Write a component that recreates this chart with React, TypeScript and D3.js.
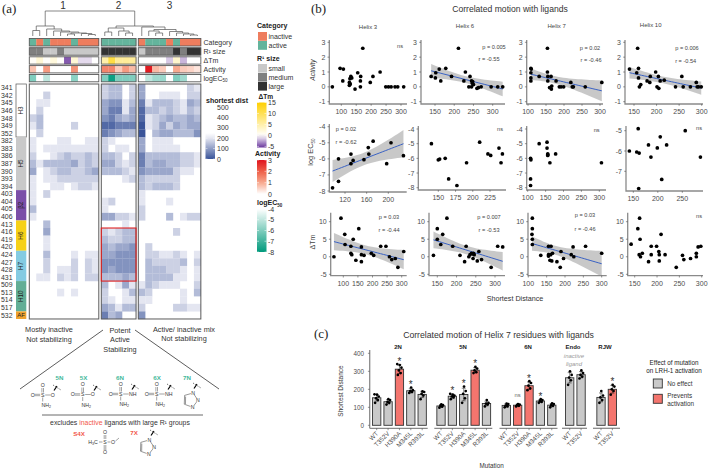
import React from "react";
import * as d3 from "d3";

type Tree = number | [number, Tree, Tree];

// ---------- (a) heat map ----------
const residues = [341,342,345,346,348,349,352,382,383,386,387,390,393,394,403,404,405,406,413,416,419,420,424,427,428,431,509,513,514,517,532];
const clusterOne = [
[0,0,0,0,0,0,0,0,0,0],[0,0,2,0,0,0,0,0,0,0],[0,1,1,0,0,0,0,0,0,0],[0,2,0,0,0,0,0,0,0,0],[2,3,0,0,0,0,0,0,0,0],[1,3,0,0,0,0,2,0,0,0],[0,2,0,0,0,0,0,0,0,0],
[1,0,0,0,1,1,0,0,1,1],[1,0,1,1,1,1,1,1,1,1],[2,0,0,1,2,3,2,2,3,2],[3,1,3,3,3,3,4,2,3,2],[4,0,1,2,3,3,2,2,3,4],[1,0,1,1,2,2,2,2,2,2],[1,0,0,1,1,0,1,2,2,1],
[1,0,2,0,0,0,0,0,0,0],[1,0,0,0,0,0,0,0,0,0],[3,0,0,0,0,0,0,0,0,0],[1,0,0,0,0,0,0,0,0,0],
[0,0,3,0,0,0,0,0,0,0],[0,0,4,0,0,0,0,0,0,0],[0,0,1,0,0,0,0,0,0,0],[0,0,1,0,0,0,0,0,0,0],
[0,0,3,0,0,0,1,0,1,1],[0,0,2,0,0,0,2,0,2,1],[0,0,2,0,1,1,2,0,2,1],[0,1,1,0,2,1,2,0,2,2],
[0,0,0,0,0,0,0,0,0,0],[0,0,0,0,1,0,1,0,0,0],[0,0,0,0,0,0,0,0,0,0],[0,0,0,0,0,0,0,0,0,0],[0,0,0,0,0,0,0,0,0,0]];
const clusterTwo = [
[2,3,3,0,2],[2,3,3,0,2],[4,5,5,1,3],[4,6,6,1,4],[5,6,4,3,4],[7,7,6,6,6],[6,5,4,3,3],
[2,1,0,0,0],[2,0,1,1,0],[3,3,2,0,2],[4,4,2,1,2],[3,3,3,2,1],[0,0,0,1,2],[0,0,0,0,0],
[0,0,0,0,0],[1,2,0,0,0],[1,0,0,0,0],[4,4,2,2,1],
[0,0,0,1,0],[2,1,2,3,3],[3,2,2,3,3],[4,3,4,4,5],[4,4,5,5,5],[5,5,5,5,5],[5,4,5,5,5],[3,3,3,4,3],
[3,0,1,4,1],[2,0,0,1,3],[2,1,0,1,1],[4,3,1,3,3],[6,3,4,0,0]];
const clusterThree = [
[4,0,0,0,0,0,0,2,1],[4,0,0,1,1,1,0,2,2],[6,1,3,3,3,2,1,4,3],[7,3,3,2,3,2,1,3,2],[7,1,2,3,4,3,3,4,3],[8,1,2,4,2,4,3,4,4],[8,0,3,4,4,3,3,3,5],
[4,0,1,1,1,0,0,0,0],[4,0,1,1,1,1,0,0,0],[6,3,3,3,3,3,2,2,1],[6,3,4,4,3,3,2,2,1],[5,4,4,4,4,2,1,1,0],[3,2,2,2,2,2,0,0,0],[3,2,3,3,3,2,0,0,0],
[1,0,0,0,0,0,0,0,0],[1,0,0,0,1,0,0,0,0],[2,0,0,0,0,0,0,0,0],[2,0,0,0,3,0,1,2,2],
[0,0,0,0,0,0,0,0,0],[0,0,0,0,0,2,0,0,0],[0,0,0,0,0,0,0,0,0],[0,2,0,0,0,0,0,0,0],
[0,2,2,1,1,2,1,0,1],[0,3,2,2,2,2,3,0,2],[0,3,3,3,2,2,1,0,1],[0,3,3,3,3,1,1,0,1],
[1,3,2,1,1,1,0,0,2],[3,2,0,0,0,0,1,0,3],[1,1,0,0,0,0,1,0,0],[2,0,0,0,0,2,2,1,1],[5,0,0,0,0,0,0,0,0]];

const categoryRow = ["a","i","a","i","i","i","a","i","i","i", "a","a","a","a","a", "i","a","a","a","i","a","i","i","i"];
const sizeRow = ["m","m","s","s","m","s","s","s","s","s", "l","l","l","l","l", "s","m","m","m","m","l","m","l","l"];
const tmRow = [0.5,2.5,0.3,2,0.3,-4.5,2.5,-1,-1,0, 5,11,6,6,6, 0,0,0,0,-1.5,3,-2,0,0];
const activityRow = [0.7,0,1.2,0,0,0,1.3,0,0,0, 1.5,1.5,0.6,1.2,0.8, 0,2.9,0.8,0.6,0,1,0.6,0.5,0.3];
const ecRow = [-6,-4,-5,-4,-4,-4,-5.8,-4,-4,-4, -6,-7.8,-6,-6,-6, -4,-5,-5.5,-5.6,-4,-6,-5.5,-4,-4];
const tree: Tree = [25,
  [10,[5.5,0,1],[7,2,[5,3,[4,4,[3,[2,5,6],[2.5,7,[1.5,8,9]]]]]]],
  [10,[8,[4,10,11],[5,12,[3,13,14]]],[9,15,[6.5,[5,16,[3,17,18]],[4.5,19,[3,20,[2,21,[1,22,23]]]]]]]];

const helixBands = [
  { name: "H3", rows: 7, color: "#ffffff" }, { name: "H5", rows: 7, color: "#c9c9c9" },
  { name: "β2", rows: 4, color: "#7b4fa8" }, { name: "H6", rows: 4, color: "#f6d118" },
  { name: "H7", rows: 4, color: "#84cbe2" }, { name: "H10", rows: 4, color: "#62ae96" },
  { name: "AF", rows: 1, color: "#f0a22e" },
];

// ---------- (b) scatter data ----------
const act3 = [[70,0],[96,1.25],[107,1.2],[105,0.4],[132,0.7],[129,0.55],[135,0.6],[127,0.3],[130,0.2],[127,0.1],[146,-0.15],[155,0.95],[165,0.7],[164,0.4],[164,0],[172,2.6],[197,0.3],[206,0.7],[230,1],[249,0],[258,0],[267,0],[280,0],[289,0],[309,0]];
const act6 = [[140,0.7],[152,0.95],[151,0.6],[161,1.2],[165,0.4],[178,1.25],[193,0.7],[211,2.6],[225,0.4],[229,1],[238,0],[241,0.7],[245,0],[245,0.4],[247,0.25],[248,0.35],[250,0.15],[259,-0.1],[263,-0.05],[270,0],[296,0],[313,0],[326,0]];
const act7 = [[108,1.25],[109,1.2],[108,0.95],[108,0.6],[108,0.4],[131,0.7],[154,2.6],[154,1],[155,0.7],[155,0.4],[164,0.7],[160,-0.05],[165,-0.15],[166,0.05],[178,0.4],[187,0],[192,0],[199,0],[219,0.3],[223,0],[226,0],[259,0],[305,0.3]];
const act10 = [[140,1.2],[156,0.95],[158,2.6],[160,1.25],[160,0.6],[162,0],[165,0.15],[179,0.4],[185,0.3],[186,0.7],[198,1],[201,0],[204,0.7],[205,-0.1],[208,0.4],[217,0.45],[242,0],[256,0.7],[259,0],[275,0],[288,0.3],[290,0],[293,0],[299,0]];
const ec3 = [[97,-7.8],[108,-7.4],[108,-6],[131,-6.3],[131,-5.7],[135,-6.1],[155,-6.05],[163,-5.3],[164,-5.7],[172,-4.9],[197,-6.3],[205,-5],[228,-5.8]];
const ec6 = [[140,-5],[150,-6.1],[152,-6.05],[160,-6],[165,-7.4],[177,-7.85],[191,-6.3],[210,-4.9],[222,-5.7],[226,-5.8],[238,-5.3],[241,-6.3],[243,-5.7]];
const ec7 = [[108,-7.4],[108,-7.85],[108,-6],[109,-6.1],[132,-5],[154,-4.9],[154,-5.3],[156,-5.7],[156,-5.8],[156,-5.75],[162,-6.3],[178,-5.7],[306,-6.3]];
const ec10 = [[160,-4.9],[142,-6],[157,-6.05],[162,-6.1],[181,-5.7],[186,-6.3],[199,-5.85],[205,-5.3],[208,-7.4],[161,-7.85],[218,-5.7],[256,-5],[287,-6.3]];
const tm3 = [[68,0],[92,11],[105,6.4],[106,3.5],[126,3],[126,1],[129,0.6],[134,5],[143,-1],[153,8],[162,2.8],[162,0.6],[162,-1.4],[171,0.4],[196,1],[204,0.4],[228,3],[246,3],[258,0],[266,-0.8],[278,-0.5],[287,-3],[307,1.5]];
const tm6 = [[140,0.4],[150,5],[150,8],[159,3.5],[164,6.4],[175,11],[190,3],[209,0.4],[221,-1.4],[225,3],[232,0],[235,0.6],[239,1],[242,0.8],[244,1],[243,-0.5],[246,0.6],[254,-1.2],[258,1.5],[265,-0.8],[290,-3],[307,3],[320,2.8]];
const tm7 = [[111,11],[111,8],[110,6.4],[111,5],[111,3.5],[134,0.4],[155,3],[162,3],[155,0.6],[159,-1],[164,-1.2],[166,1],[155,0.2],[178,-1.4],[187,-3],[189,1.5],[196,-0.5],[217,0.6],[222,2.8],[224,0],[256,3],[300,1],[161,0.6]];
const tm10 = [[142,3.6],[157,8],[161,11],[162,5],[160,0.6],[163,0],[167,1],[181,-1.4],[187,3],[187,0.6],[199,3],[204,1.5],[205,0.6],[205,-1.2],[209,6.4],[218,0.6],[243,-3],[257,0.4],[260,-0.8],[275,-0.5],[288,1],[288,0],[292,2.8],[298,3]];

const row1Ticks = [3,2,1,0,-1];
const row2Ticks = [-4,-5,-6,-7,-8];
const row3Ticks = [10,5,0,-5];
const hundreds = [100,150,200,250,300];
const fromOneFifty = [150,200,250,300];

// ---------- (c) bars ----------
const mutants5 = ["WT","T352V","H390A","M345L","R393L"];
const mutants2 = ["WT","T352V"];
const prevents = {
  "2N": [false,false,true,false,false], "5N": [false,false,false,true,false], "6N": [false,true,true,false,false],
  "Endo": [false,false], "RJW": [false,true],
};
const reps2N = [[125,140,150,160,170,172],[115,125,130,140,145],[280,290,305,320,335,340],[180,185,190,195,210],[145,165,175,185,188]];
const reps5N = [[98,103,108,112,116],[145,155,160,165,170,175],[125,150,175,190,215],[290,295,305,315,325],[105,115,120,125,140]];
const reps6N = [[100,105,110,118,120],[105,108,112,115,118],[195,205,220,235,245],[125,130,135,140,145],[100,108,112,118,122]];
const repsEndo = [[225,250,265,280,300],[260,270,280,290,305]];
const repsRJW = [[125,140,155,165,190],[170,190,200,215,225]];
const jitter = [-1.6,1.2,-0.6,2,0.3,-2.2];

// ---------- styles ----------
const FONT = "'Liberation Sans', Arial, sans-serif";
const C = { inactive: "#ee7d5e", active: "#64b49c", frame: "#5a5a5a", axis: "#8a8a8a", tick: "#4d4d4d", text: "#333333" };
const heatColor = d3.scaleLinear<string>().domain([0,1,8]).range(["#ffffff","#e4e6f1","#3a5499"]);
const tmColor = d3.scaleLinear<string>().domain([-5,0,15]).range(["#7748a6","#ffffff","#ffd000"]);
const actColor = d3.scaleLinear<string>().domain([0,1,2,3]).range(["#ffffff","#f8a98e","#ee5f48","#e0141e"]);
const ecColor = d3.scaleLinear<string>().domain([-4,-8]).range(["#ffffff","#009a7c"]);
const sizeColor: Record<string,string> = { s: "#c8c8c8", m: "#7f7f7f", l: "#333333" };

const heatPanels = [
  { x0: 29.3, data: clusterOne }, { x0: 101.3, data: clusterTwo }, { x0: 138.3, data: clusterThree },
];
const CW = 6.95, RH = 7.58, HY = 84;
const leafX = heatPanels.flatMap(p => p.data[0].map((_, i) => p.x0 + CW * (i + 0.5)));

function dendrogram(node: Tree, base: number, out: d3.Path): { x: number; y: number } {
  if (typeof node === "number") return { x: leafX[node], y: base };
  const [h, l, r] = node;
  const a = dendrogram(l, base, out), b = dendrogram(r, base, out);
  const y = base - h;
  out.moveTo(a.x, a.y); out.lineTo(a.x, y); out.lineTo(b.x, y); out.lineTo(b.x, b.y);
  return { x: (a.x + b.x) / 2, y };
}

function AnnoRow({ y, h, colors }: { y: number; h: number; colors: string[] }) {
  let k = 0;
  return <g>{heatPanels.map((p, pi) => {
    const n = p.data[0].length;
    const cells = colors.slice(k, k + n); k += n;
    return <g key={pi}>
      {cells.map((c, i) => <rect key={i} x={p.x0 + i * CW} y={y} width={CW + 0.2} height={h} fill={c} />)}
      <rect x={p.x0} y={y} width={n * CW} height={h} fill="none" stroke={C.frame} strokeWidth={0.9} />
    </g>;
  })}</g>;
}

function GradBar({ id, x, y, w, h, scale, top, bottom, ticks, labelX }: any) {
  const stops = d3.range(0, 1.001, 0.1);
  const yy = d3.scaleLinear().domain([top, bottom]).range([y, y + h]);
  return <g>
    <defs><linearGradient id={id} x1="0" y1="0" x2="0" y2="1">
      {stops.map(s => <stop key={s} offset={s} stopColor={scale(top + (bottom - top) * s)} />)}
    </linearGradient></defs>
    <rect x={x} y={y} width={w} height={h} fill={`url(#${id})`} />
    {ticks.map((t: number) => <g key={t}>
      <line x1={x} x2={x + 2} y1={yy(t)} y2={yy(t)} stroke="#fff" strokeWidth={0.5} />
      <line x1={x + w - 2} x2={x + w} y1={yy(t)} y2={yy(t)} stroke="#fff" strokeWidth={0.5} />
      <text x={labelX} y={yy(t) + 2.6} fontSize={7} fill={C.text}>{t}</text>
    </g>)}
  </g>;
}

function regression(pts: number[][]) {
  const xs = pts.map(p => p[0]), ys = pts.map(p => p[1]);
  const mx = d3.mean(xs)!, my = d3.mean(ys)!;
  const sxx = d3.sum(xs, x => (x - mx) ** 2);
  const b = d3.sum(pts, p => (p[0] - mx) * (p[1] - my)) / sxx;
  const a = my - b * mx;
  const s = Math.sqrt(d3.sum(pts, p => (p[1] - a - b * p[0]) ** 2) / (pts.length - 2));
  const [x0, x1] = d3.extent(xs) as [number, number];
  return d3.range(25).map(i => {
    const x = x0 + (x1 - x0) * i / 24;
    const se = 2.07 * s * Math.sqrt(1 / pts.length + (x - mx) ** 2 / sxx);
    return { x, y: a + b * x, lo: a + b * x - se, hi: a + b * x + se };
  });
}

function Scatter({ pts, ax, dom, rng, right, yDom, yRng, top, bottom, xTicks, yTicks, fit, notes }: any) {
  const x = d3.scaleLinear().domain(dom).range(rng);
  const y = d3.scaleLinear().domain(yDom).range(yRng);
  const line = d3.line<any>().x(d => x(d.x)).y(d => y(d.y));
  const area = d3.area<any>().x(d => x(d.x)).y0(d => y(d.lo)).y1(d => y(d.hi));
  const reg = fit ? regression(pts) : null;
  return <g>
    {reg && <path d={area(reg)!} fill="#9a9a9a" fillOpacity={0.55} />}
    {reg && <path d={line(reg)!} fill="none" stroke="#3a62c4" strokeWidth={1} />}
    {pts.map((p: number[], i: number) => <circle key={i} cx={x(p[0])} cy={y(p[1])} r={1.85} fill="#000" />)}
    <path d={`M${ax},${top}V${bottom}H${right}`} fill="none" stroke={C.axis} strokeWidth={1.3} />
    {xTicks.map((t: number) => <g key={t}>
      <line x1={x(t)} x2={x(t)} y1={bottom} y2={bottom + 1.8} stroke={C.tick} strokeWidth={0.6} />
      <text x={x(t)} y={bottom + 10} fontSize={7} fill={C.tick} textAnchor="middle">{t}</text>
    </g>)}
    {yTicks.map((t: number) => <g key={t}>
      <line x1={ax - 1.8} x2={ax} y1={y(t)} y2={y(t)} stroke={C.tick} strokeWidth={0.6} />
      <text x={ax - 4} y={y(t) + 2.5} fontSize={7} fill={C.tick} textAnchor="end">{t}</text>
    </g>)}
    {notes.map((n: any, i: number) => <text key={i} x={n[1]} y={n[2] + 2} fontSize={5.6} fill="#444" textAnchor="middle">{n[0]}</text>)}
  </g>;
}

const scatterLayout = [
  { pts: act3, ax: 329.3, dom: [100,300], rng: [341.3,401], right: 407, yDom: [3,-1], yRng: [42.3,101.7], top: 40, bottom: 104, xTicks: hundreds, yTicks: row1Ticks, fit: false, notes: [["ns",400,45.7]] },
  { pts: act6, ax: 421, dom: [150,300], rng: [435,492.7], right: 505, yDom: [3,-1], yRng: [42.3,101.7], top: 40, bottom: 104, xTicks: fromOneFifty, yTicks: row1Ticks, fit: true, notes: [["p = 0.005",494,46.7],["r = -0.55",489,59]] },
  { pts: act7, ax: 526.7, dom: [100,300], rng: [528,600], right: 603, yDom: [3,-1], yRng: [42.3,101.7], top: 40, bottom: 104, xTicks: hundreds, yTicks: row1Ticks, fit: true, notes: [["p = 0.02",590,47.7],["r = -0.46",591,60]] },
  { pts: act10, ax: 625, dom: [150,300], rng: [634,701.7], right: 703, yDom: [3,-1], yRng: [42.3,101.7], top: 40, bottom: 104, xTicks: fromOneFifty, yTicks: row1Ticks, fit: true, notes: [["p = 0.006",687,47.7],["r = -0.54",685.7,60.7]] },
  { pts: ec3, ax: 329.3, dom: [120,200], rng: [345,388.3], right: 406.7, yDom: [-4,-8], yRng: [126.7,191], top: 124, bottom: 192, xTicks: [120,160,200], yTicks: row2Ticks, fit: true, notes: [["p = 0.02",346,129.3],["r = -0.62",346,142.3]] },
  { pts: ec6, ax: 418.3, dom: [150,225], rng: [438.3,490], right: 506, yDom: [-4,-8], yRng: [129,187.7], top: 126, bottom: 190, xTicks: [150,175,200,225], yTicks: row2Ticks, fit: false, notes: [["ns",500,129]] },
  { pts: ec7, ax: 526.7, dom: [100,300], rng: [527.7,599.3], right: 606, yDom: [-4,-8], yRng: [129,187.7], top: 126, bottom: 190, xTicks: hundreds, yTicks: row2Ticks, fit: false, notes: [["ns",596.7,130]] },
  { pts: ec10, ax: 626, dom: [150,250], rng: [633.3,682.3], right: 703, yDom: [-5,-7], yRng: [130.7,171.3], top: 126, bottom: 191, xTicks: [150,200,250], yTicks: [-5,-6,-7], fit: false, notes: [["ns",699,128]] },
  { pts: tm3, ax: 330.7, dom: [100,300], rng: [343.3,401.7], right: 406.7, yDom: [10,-5], yRng: [221.7,274.3], top: 212.7, bottom: 275.7, xTicks: hundreds, yTicks: row3Ticks, fit: true, notes: [["p = 0.03",389,217],["r = -0.44",389,230]] },
  { pts: tm6, ax: 429, dom: [150,300], rng: [437.3,495], right: 505, yDom: [10,-5], yRng: [221.7,274.3], top: 212.7, bottom: 275.7, xTicks: fromOneFifty, yTicks: row3Ticks, fit: true, notes: [["p = 0.007",489,216.7],["r = -0.53",489,230.3]] },
  { pts: tm7, ax: 528, dom: [100,300], rng: [528.3,601.7], right: 606.7, yDom: [10,-5], yRng: [221.7,274.3], top: 212.7, bottom: 275.7, xTicks: hundreds, yTicks: row3Ticks, fit: true, notes: [["p = 0.03",585,215.3],["r = -0.46",585,228.7]] },
  { pts: tm10, ax: 627.7, dom: [150,300], rng: [634.7,701.7], right: 703, yDom: [10,-5], yRng: [221.7,274.3], top: 212.7, bottom: 275.7, xTicks: fromOneFifty, yTicks: row3Ticks, fit: false, notes: [["ns",699,215.7]] },
];

const barGroups = [
  { name: "2N", reps: reps2N, labels: mutants5, flags: prevents["2N"], x0: 376.7, left: 369.7, right: 427.7, tx: 398, stars: [2,3], ns: [] as number[] },
  { name: "5N", reps: reps5N, labels: mutants5, flags: prevents["5N"], x0: 441, left: 434.3, right: 492.3, tx: 463, stars: [1,2,3], ns: [] as number[] },
  { name: "6N", reps: reps6N, labels: mutants5, flags: prevents["6N"], x0: 506.3, left: 499.5, right: 557.5, tx: 528, stars: [2,3], ns: [1] },
  { name: "Endo", reps: repsEndo, labels: mutants2, flags: prevents["Endo"], x0: 569.7, left: 562, right: 587, tx: 573, stars: [] as number[], ns: [] as number[] },
  { name: "RJW", reps: repsRJW, labels: mutants2, flags: prevents["RJW"], x0: 601, left: 593, right: 620, tx: 605, stars: [1], ns: [] as number[] },
];

function Bars() {
  const y = d3.scaleLinear().domain([0,400]).range([425.3,353.3]);
  const step = 11.37, w = 8.3;
  return <g>
    <path d="M369.7,350V428.3" stroke={C.axis} strokeWidth={1.3} fill="none" />
    {[0,100,200,300,400].map(t => <g key={t}>
      <line x1={367.9} x2={369.7} y1={y(t)} y2={y(t)} stroke={C.tick} strokeWidth={0.6} />
      <text x={364} y={y(t) + 2.3} fontSize={6.3} fill={C.tick} textAnchor="end">{t}</text>
    </g>)}
    {barGroups.map(g => <g key={g.name}>
      <line x1={g.left} x2={g.right} y1={428.3} y2={428.3} stroke={C.axis} strokeWidth={1.3} />
      <text x={g.tx} y={349} fontSize={6} fontWeight="bold" fill="#222" textAnchor="middle">{g.name}</text>
      {g.reps.map((r, i) => {
        const cx = g.x0 + i * step, m = d3.mean(r)!, sd = d3.deviation(r)!;
        return <g key={i}>
          <rect x={cx - w / 2} y={y(m)} width={w} height={y(0) - y(m)} fill={g.flags[i] ? "#f4756e" : "#c9c9c9"} stroke="#333" strokeWidth={0.9} />
          <path d={`M${cx},${y(m - sd)}V${y(m + sd)}M${cx - 2},${y(m - sd)}h4M${cx - 2},${y(m + sd)}h4`} stroke="#111" strokeWidth={0.5} fill="none" />
          {r.map((v, k) => <circle key={k} cx={cx + jitter[k % jitter.length]} cy={y(v)} r={1.35} fill="#000" />)}
          <line x1={cx} x2={cx} y1={428.3} y2={430.2} stroke={C.tick} strokeWidth={0.6} />
          <text transform={`translate(${cx + 2},${434}) rotate(-45)`} fontSize={6.4} fill={C.tick} textAnchor="end">{g.labels[i]}</text>
          {g.stars.includes(i) && <text x={cx} y={y(d3.max(r)!) + 0.5} fontSize={10} fill="#333" textAnchor="middle">*</text>}
          {g.ns.includes(i) && <text x={cx} y={y(d3.max(r)!) - 7} fontSize={5.8} fill="#666" textAnchor="middle">ns</text>}
        </g>;
      })}
    </g>)}
    <text x={574} y={358} fontSize={6} fontStyle="italic" fill="#999" textAnchor="middle">inactive</text>
    <text x={574} y={366} fontSize={6} fontStyle="italic" fill="#999" textAnchor="middle">ligand</text>
    <text transform="translate(343,391) rotate(-90)" fontSize={6.5} fill="#333" textAnchor="middle">Shortest Distance</text>
    <text x={491.7} y={468} fontSize={6.3} fill="#333" textAnchor="middle">Mutation</text>
  </g>;
}

// ---------- ligand sketches ----------
const atom = { fontSize: 5.2, fill: "#333", textAnchor: "middle" as const };
function Wiggle({ x, y }: { x: number; y: number }) {
  return <g>
    <line x1={x - 3} y1={y + 2.5} x2={x} y2={y - 2} stroke="#000" strokeWidth={1.2} />
    <line x1={x - 4} y1={y - 3} x2={x + 4} y2={y + 2} stroke="#333" strokeWidth={0.7} strokeDasharray="1.2 1" />
  </g>;
}
function Sulfonyl({ x, y, right }: { x: number; y: number; right: string }) {
  return <g stroke="none">
    <text x={x} y={y + 1.9} {...atom}>S</text>
    <text x={x} y={y - 8.1} {...atom}>O</text>
    <text x={x - 10} y={y + 1.9} {...atom}>O</text>
    <text x={x + (right === "NH" ? 12 : 10)} y={y + 1.9} {...atom}>{right}</text>
    <text x={x + 3.5} y={y + 12} {...atom}>NH<tspan fontSize={3.6} dy={1}>2</tspan></text>
    <path d={`M${x - 0.8},${y - 7}V${y - 2.5}M${x + 0.8},${y - 7}V${y - 2.5}M${x - 8},${y - 0.7}H${x - 2.5}M${x - 8},${y + 0.7}H${x - 2.5}M${x + 2.5},${y}H${x + 8}M${x},${y + 2.5}V${y + 6.5}`} stroke="#333" strokeWidth={0.45} fill="none" />
  </g>;
}
function Triazole({ x, y }: { x: number; y: number }) {
  const r = 7.5;
  const pts = d3.range(5).map(i => {
    const a = -Math.PI / 2 + 0.35 + (i * 2 * Math.PI) / 5;
    return [x + r * Math.cos(a), y + r * Math.sin(a)];
  });
  return <g>
    <path d={d3.line()(pts as [number,number][])! + "Z"} fill="none" stroke="#333" strokeWidth={0.5} />
    <path d={`M${pts[3][0] + 1.2},${pts[3][1] - 0.2}L${pts[4][0] + 1},${pts[4][1] + 1.2}`} stroke="#333" strokeWidth={0.5} />
    {[0,1,2].map(i => <g key={i}>
      <circle cx={pts[i][0]} cy={pts[i][1]} r={2.4} fill="#fff" />
      <text x={pts[i][0]} y={pts[i][1] + 1.9} {...atom}>N</text>
    </g>)}
  </g>;
}

const ligandGreen = [["5N",59.5],["5X",83.5],["6N",120],["6X",157],["7N",187]] as [string,number][];

export default function App() {
  const treePath = d3.path();
  dendrogram(tree, 36, treePath);
  const yCell = (i: number) => HY + i * RH;
  let band = 0;
  const catColors = categoryRow.map(c => (c === "a" ? C.active : C.inactive));
  return (
    <svg width={709} height={470} viewBox="0 0 709 470" fontFamily={FONT} style={{ position: "absolute", left: 0, top: 0, background: "#fff" }}>
      {/* panel a */}
      <text x={2} y={12.5} fontFamily="'Liberation Serif', serif" fontSize={13} fill="#222">(a)</text>
      {[["1",63],["2",118.5],["3",169.5]].map(([t, x]) => <text key={t} x={x} y={8.5} fontSize={10} fill="#333" textAnchor="middle">{t}</text>)}
      <path d={treePath.toString()} fill="none" stroke="#555" strokeWidth={0.7} />

      <AnnoRow y={38.5} h={7.5} colors={catColors} />
      <AnnoRow y={47.7} h={7.5} colors={sizeRow.map(s => sizeColor[s])} />
      <AnnoRow y={56.8} h={7.3} colors={tmRow.map(v => tmColor(v))} />
      <AnnoRow y={65.6} h={7.3} colors={activityRow.map(v => actColor(v))} />
      <AnnoRow y={74.5} h={7.3} colors={ecRow.map(v => ecColor(v))} />
      {[["Category",44.5],["R¹ size",53.5],["ΔTm",62.7],["Activity",71.5],["logEC",80.5]].map(([t, y]) =>
        <text key={t} x={203.5} y={y} fontSize={7} fill={C.text}>{t}{t === "logEC" && <tspan fontSize={4.5} dy={1.5}>50</tspan>}</text>)}

      {heatPanels.map((p, pi) => <g key={pi}>
        {p.data.map((row, r) => row.map((v, c) => v > 0 &&
          <rect key={c} x={p.x0 + c * CW} y={yCell(r)} width={CW + 0.15} height={RH + 0.15} fill={heatColor(v)} />))}
        <rect x={p.x0} y={HY} width={p.data[0].length * CW} height={residues.length * RH} fill="none" stroke={C.frame} strokeWidth={1} />
      </g>)}
      <rect x={101.3} y={yCell(19)} width={5 * CW} height={7 * RH} fill="none" stroke="#e02020" strokeWidth={1.1} />

      {residues.map((r, i) => <text key={r} x={1} y={yCell(i) + RH / 2 + 2.4} fontSize={6.9} fill={C.text}>{r}</text>)}
      {helixBands.map(b => {
        const y = yCell(band), h = b.rows * RH; band += b.rows;
        return <g key={b.name}>
          <rect x={16} y={y} width={10.3} height={h} fill={b.color} stroke={b.name === "H3" ? "#555" : "none"} strokeWidth={0.7} />
          {b.name === "AF"
            ? <text x={21.1} y={y + h / 2 + 2.2} fontSize={6} fill="#222" textAnchor="middle">{b.name}</text>
            : <text transform={`translate(${23.3},${y + h / 2}) rotate(-90)`} fontSize={6.3} fill="#222" textAnchor="middle">{b.name}</text>}
        </g>;
      })}

      {/* legends of a */}
      <text x={257} y={27.5} fontSize={7} fontWeight="bold" fill="#222">Category</text>
      {[["inactive",C.inactive,32],["active",C.active,41]].map(([t, c, y]) => <g key={t as string}>
        <rect x={258} y={y as number} width={9} height={8.8} fill={c as string} />
        <text x={268.5} y={(y as number) + 6.8} fontSize={7} fill={C.text}>{t}</text>
      </g>)}
      <text x={257} y={60.5} fontSize={7} fontWeight="bold" fill="#222">R¹ size</text>
      {[["small","s",64],["medium","m",73],["large","l",82]].map(([t, c, y]) => <g key={t as string}>
        <rect x={258} y={y as number} width={9} height={8.6} fill={sizeColor[c as string]} />
        <text x={268.5} y={(y as number) + 6.6} fontSize={7} fill={C.text}>{t}</text>
      </g>)}
      <text x={258.5} y={98.5} fontSize={6.6} fontWeight="bold" fill="#222">ΔTm</text>
      <GradBar id="gTm" x={257} y={102.5} w={9.5} h={45} scale={tmColor} top={15} bottom={-5.5} ticks={[15,10,5,0,-5]} labelX={268} />
      <text x={255} y={156} fontSize={7} fontWeight="bold" fill="#222">Activity</text>
      <GradBar id="gAct" x={257} y={160} w={9.5} h={34} scale={actColor} top={3} bottom={0} ticks={[3,2,1,0]} labelX={268} />
      <text x={257} y={205} fontSize={7} fontWeight="bold" fill="#222">logEC<tspan fontSize={4.5} dy={1.5}>50</tspan></text>
      <GradBar id="gEc" x={257} y={209} w={9.5} h={43} scale={ecColor} top={-4} bottom={-8} ticks={[-4,-5,-6,-7,-8]} labelX={268} />
      <text x={206} y={103} fontSize={7} fontWeight="bold" fill="#222">shortest dist</text>
      <GradBar id="gDist" x={205.5} y={107} w={9.5} h={52} scale={(d: number) => d > 200 ? "#ffffff" : heatColor(8 - (d / 200) * 7)} top={500} bottom={0} ticks={[500,400,300,200,100,0]} labelX={217} />

      {/* group captions */}
      {[["Mostly inactive",49,332],["Not stabilizing",49,341.5],["Potent",120,332.5],["Active",120,342],["Stabilizing",120,351.5],["Active/ inactive mix",184,331.5],["Not stabilizing",184,341]].map(([t, x, y], i) =>
        <text key={i} x={x as number} y={y as number} fontSize={7.3} fill={C.text} textAnchor="middle">{t}</text>)}
      <path d="M103,330L20,389M135,330L219,389" stroke="#333" strokeWidth={0.8} fill="none" />
      {ligandGreen.map(([t, x]) => <text key={t} x={x} y={380} fontSize={6.2} fontWeight="bold" fill="#3fb89a" textAnchor="middle">{t}</text>)}
      <Sulfonyl x={42.7} y={395} right="O" /><Wiggle x={57} y={388} />
      <Sulfonyl x={82.7} y={394.5} right="O" /><Wiggle x={97} y={388} />
      <Sulfonyl x={120.7} y={394} right="NH" /><Wiggle x={135} y={387} />
      <Sulfonyl x={156.7} y={394} right="NH" /><Wiggle x={171} y={387} />
      <Triazole x={190.5} y={400} /><Wiggle x={197} y={386} />
      <line x1={42} x2={203} y1={415} y2={415} stroke="#444" strokeWidth={0.8} />
      <text x={120} y={425} fontSize={6.9} fill={C.text} textAnchor="middle">excludes <tspan fill="#f2584a">inactive</tspan> ligands with large R¹ groups</text>
      <text x={79} y={436} fontSize={6.2} fontWeight="bold" fill="#f2584a" textAnchor="middle">S4X</text>
      <text x={134} y={435} fontSize={6.2} fontWeight="bold" fill="#f2584a" textAnchor="middle">7X</text>
      <g>
        <text x={105} y={444} {...atom}>S</text>
        <text x={105} y={434} {...atom}>O</text>
        <text x={105} y={454} {...atom}>O</text>
        <text x={113} y={444} {...atom}>O</text>
        <text x={93} y={444} {...atom}>H<tspan fontSize={3.6} dy={1}>3</tspan><tspan dy={-1}>C</tspan></text>
        <path d="M104.2,435V439M105.8,435V439M104.2,445V450M105.8,445V450M99,442H102.5M107.5,442H110.5M115.5,441L119,438" stroke="#333" strokeWidth={0.45} fill="none" />
      </g>
      <Triazole x={146.7} y={447} /><Wiggle x={154} y={433} />

      {/* panel b */}
      <text x={311} y={13} fontFamily="'Liberation Serif', serif" fontSize={13} fill="#222">(b)</text>
      <text x={510} y={11.5} fontSize={8.6} fill={C.text} textAnchor="middle">Correlated motion with ligands</text>
      {[["Helix 3",368,29],["Helix 6",465,28],["Helix 7",556.7,28],["Helix 10",650.7,26.5]].map(([t, x, y]) =>
        <text key={t as string} x={x as number} y={y as number} fontSize={6} fill="#444" textAnchor="middle">{t}</text>)}
      {scatterLayout.map((s, i) => <Scatter key={i} {...s} />)}
      <text transform="translate(314.5,70) rotate(-90)" fontSize={6.8} fontStyle="italic" fill="#444" textAnchor="middle">Activity</text>
      <text transform="translate(313,152) rotate(-90)" fontSize={7.4} fill="#444" textAnchor="middle">log EC<tspan fontSize={4.6} dy={1.5}>50</tspan></text>
      <text transform="translate(315,242) rotate(-90)" fontSize={7} fill="#444" textAnchor="middle">ΔTm</text>
      <text x={515} y={300.5} fontSize={7.2} fill="#333" textAnchor="middle">Shortest Distance</text>

      {/* panel c */}
      <text x={314} y={338} fontFamily="'Liberation Serif', serif" fontSize={13} fill="#222">(c)</text>
      <text x={498.5} y={337.5} fontSize={8.7} fill={C.text} textAnchor="middle">Correlated motion of Helix 7 residues with ligands</text>
      <Bars />
      <text x={674} y={365} fontSize={6.3} fill="#222" textAnchor="middle">Effect of mutation</text>
      <text x={674} y={373.3} fontSize={6.3} fill="#222" textAnchor="middle">on LRH-1 activation</text>
      <rect x={653.3} y={379} width={9} height={9} fill="#c9c9c9" stroke="#333" strokeWidth={0.9} />
      <rect x={653.3} y={394.3} width={9} height={9} fill="#f4756e" stroke="#333" strokeWidth={0.9} />
      <text x={667.3} y={385.5} fontSize={6.3} fill="#333">No effect</text>
      <text x={667.3} y={397.5} fontSize={6.3} fill="#333">Prevents</text>
      <text x={667.3} y={406} fontSize={6.3} fill="#333">activation</text>
    </svg>
  );
}
